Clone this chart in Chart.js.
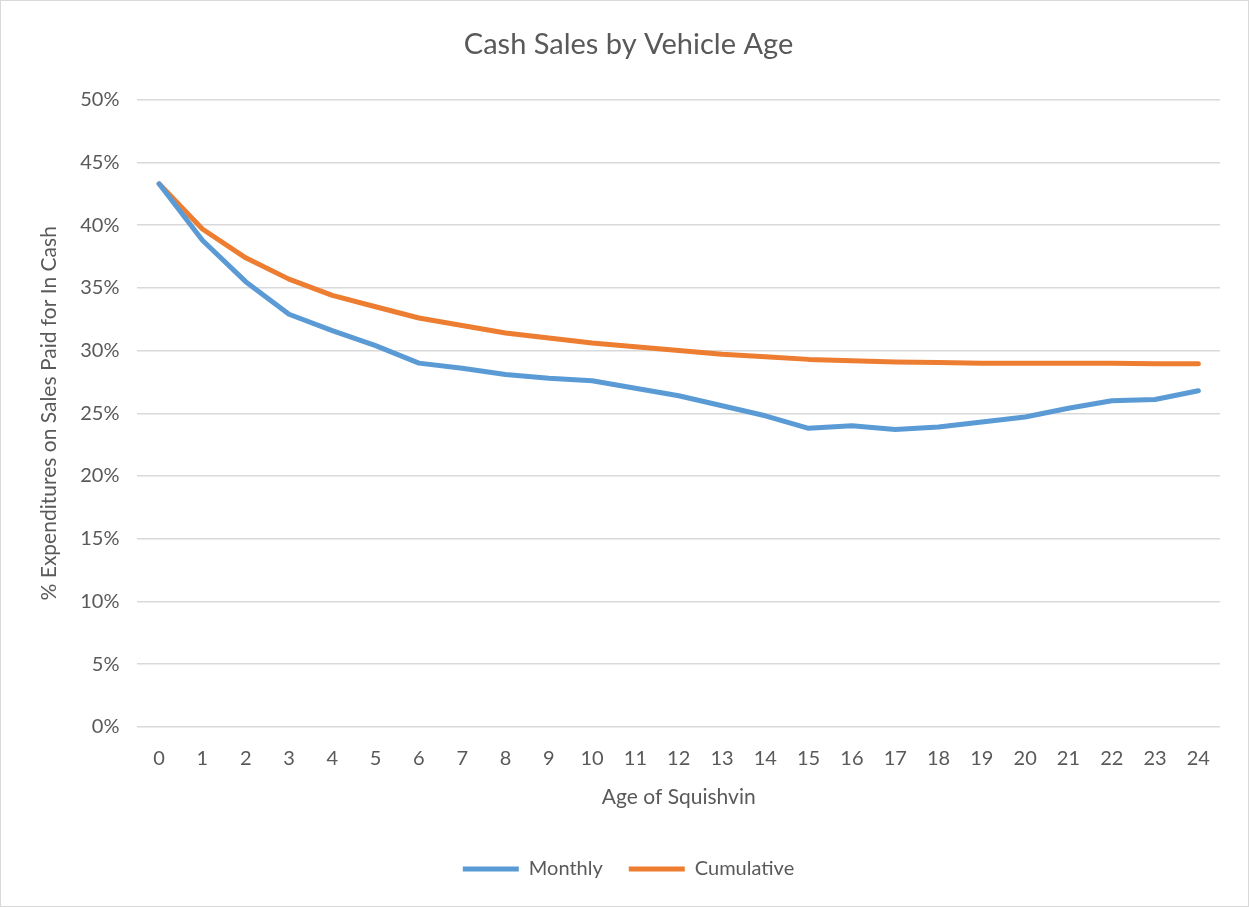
<!DOCTYPE html>
<html>
<head>
<meta charset="utf-8">
<script src="https://cdn.jsdelivr.net/npm/chart.js@4.4.0/dist/chart.umd.min.js"></script>
<style>
  html, body { margin: 0; padding: 0; background: #fff; }
  #wrap {
    width: 1249px; height: 907px; box-sizing: border-box;
    border: 1px solid #d9d9d9; position: relative;
  }
  canvas { display: block; }
</style>
</head>
<body>
<div id="wrap"><canvas id="chart" width="1247" height="905"></canvas></div>
<script>
const ages = ['0','1','2','3','4','5','6','7','8','9','10','11','12','13','14','15','16','17','18','19','20','21','22','23','24'];
const monthly = [43.3, 38.8, 35.5, 32.9, 31.6, 30.4, 29.0, 28.6, 28.1, 27.8, 27.6, 27.0, 26.4, 25.6, 24.8, 23.8, 24.0, 23.7, 23.9, 24.3, 24.7, 25.4, 26.0, 26.1, 26.8];
const cumulative = [43.3, 39.7, 37.4, 35.7, 34.4, 33.5, 32.6, 32.0, 31.4, 31.0, 30.6, 30.3, 30.0, 29.7, 29.5, 29.3, 29.2, 29.1, 29.05, 29.0, 29.0, 29.0, 29.0, 28.95, 28.95];

const textColor = '#595959';
const gridColor = '#d9d9d9';
const fontFamily = 'Lato, "Open Sans", sans-serif';

Chart.defaults.font.family = fontFamily;
Chart.defaults.color = textColor;

const ctx = document.getElementById('chart').getContext('2d');

new Chart(ctx, {
  type: 'line',
  data: {
    labels: ages,
    datasets: [
      {
        label: 'Monthly',
        data: monthly,
        borderColor: '#5b9bd5',
        backgroundColor: '#5b9bd5',
        borderWidth: 5,
        borderCapStyle: 'round',
        borderJoinStyle: 'round',
        pointRadius: 0,
        tension: 0
      },
      {
        label: 'Cumulative',
        data: cumulative,
        borderColor: '#ed7d31',
        backgroundColor: '#ed7d31',
        borderWidth: 5,
        borderCapStyle: 'round',
        borderJoinStyle: 'round',
        pointRadius: 0,
        tension: 0
      }
    ]
  },
  options: {
    responsive: false,
    animation: false,
    layout: { padding: { left: 36, right: 28, top: 0, bottom: 17 } },
    plugins: {
      title: {
        display: true,
        text: 'Cash Sales by Vehicle Age',
        color: textColor,
        font: { size: 29, weight: 'normal' },
        padding: { top: 26, bottom: 38 }
      },
      legend: {
        position: 'bottom',
        labels: {
          usePointStyle: true,
          pointStyle: 'line',
          pointStyleWidth: 56,
          color: textColor,
          font: { size: 20 },
          padding: 26
        }
      },
      tooltip: { enabled: false }
    },
    scales: {
      x: {
        offset: true,
        grid: { display: false, drawTicks: false },
        border: { display: false },
        ticks: { padding: 20, font: { size: 20 }, color: textColor, maxRotation: 0, autoSkip: false },
        title: {
          display: true,
          text: 'Age of Squishvin',
          color: textColor,
          font: { size: 21 },
          padding: { top: -6, bottom: 23 }
        }
      },
      y: {
        min: 0,
        max: 50,
        grid: { color: gridColor, lineWidth: 1.5, drawTicks: false },
        border: { display: false },
        ticks: {
          stepSize: 5,
          padding: 18,
          font: { size: 20 },
          color: textColor,
          callback: (v) => v + '%'
        },
        title: {
          display: true,
          text: '% Expenditures on Sales Paid for In Cash',
          color: textColor,
          font: { size: 21 },
          padding: { top: 0, bottom: 0 }
        }
      }
    }
  }
});
</script>
</body>
</html>
